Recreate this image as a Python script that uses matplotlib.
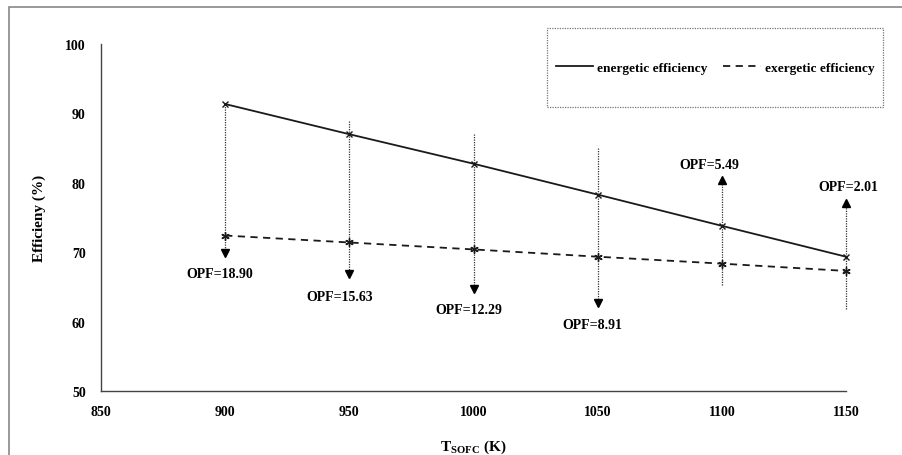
import numpy as np
import matplotlib
matplotlib.use("Agg")
import matplotlib.pyplot as plt
from matplotlib.patches import Rectangle
from matplotlib.lines import Line2D

plt.rcParams["font.family"] = "Liberation Serif"
plt.rcParams["font.weight"] = "bold"
plt.rcParams["mathtext.fontset"] = "custom"
plt.rcParams["mathtext.rm"] = "Liberation Serif:bold"
plt.rcParams["mathtext.bf"] = "Liberation Serif:bold"

# data
t_sofc = [900, 950, 1000, 1050, 1100, 1150]
energetic = [91.35, 87.0, 82.75, 78.3, 73.8, 69.35]
exergetic = [72.4, 71.4, 70.4, 69.35, 68.35, 67.3]

# OPF arrows: dotted line from start to tip
arrow_start = [91.35, 88.9, 87.0, 85.0, 65.3, 61.8]
arrow_tip = [69.9, 66.8, 64.7, 62.7, 80.4, 77.1]
opf_labels = ["OPF=18.90", "OPF=15.63", "OPF=12.29", "OPF=8.91", "OPF=5.49", "OPF=2.01"]
label_x = [898, 946, 998, 1048, 1095, 1151]
label_y = [67.0, 63.6, 61.7, 59.6, 82.6, 79.4]

fig = plt.figure(figsize=(9.03, 4.56), dpi=100)
ax = fig.add_axes([101 / 903, 64 / 456, 745 / 903, 347 / 456])

# outer frame
fig.patches.append(Rectangle((9 / 903, -0.05), 1.0, 1 - 8 / 456 + 0.05,
                             transform=fig.transFigure, fill=False,
                             edgecolor="#888888", lw=1.2))

for x, s, e in zip(t_sofc, arrow_start, arrow_tip):
    ax.plot([x, x], [s, e], color="#333333", lw=0.9, ls=(0, (1, 1)),
            zorder=1, clip_on=False)
    ax.plot(x, e, marker="v" if e < s else "^", color="black", ms=6,
            zorder=2, clip_on=False)

ax.plot(t_sofc, energetic, color="#1a1a1a", lw=1.3, marker="x", ms=5,
        mew=1.0, zorder=3, clip_on=False)
ax.plot(t_sofc, exergetic, color="#1a1a1a", lw=1.3, ls=(0, (4, 3)),
        marker=(6, 2, 0), ms=6, mew=1.0, zorder=3, clip_on=False)

for lx, ly, txt in zip(label_x, label_y, opf_labels):
    ax.text(lx, ly, txt, ha="center", va="center", fontsize=10, fontweight="bold")

ax.set_xlim(850, 1150)
ax.set_ylim(50, 100)
ax.set_xticks(np.arange(850, 1151, 50))
ax.set_yticks(np.arange(50, 101, 10))
ax.tick_params(length=0, labelsize=10, pad=10)
ax.tick_params(axis="y", pad=11)
for lab in ax.get_xticklabels() + ax.get_yticklabels():
    lab.set_fontweight("bold")
for side in ["top", "right"]:
    ax.spines[side].set_visible(False)
for side in ["left", "bottom"]:
    ax.spines[side].set_color("#444444")
    ax.spines[side].set_linewidth(1.0)

ax.set_ylabel("Efficieny (%)", fontsize=11, fontweight="bold", labelpad=14)
ax.set_xlabel(r"T$_{\mathrm{SOFC}}$ (K)", fontsize=11, fontweight="bold", labelpad=14)

# legend with dotted box
box = (547 / 903, 1 - 108 / 456, 336 / 903, 79 / 456)
fig.patches.append(Rectangle(box[:2], box[2], box[3], transform=fig.transFigure,
                             fill=False, edgecolor="#777777", lw=0.9,
                             ls=(0, (1, 1))))
handles = [Line2D([], [], color="#1a1a1a", lw=1.3),
           Line2D([], [], color="#1a1a1a", lw=1.3, ls=(0, (4, 3)))]
leg = fig.legend(handles, ["energetic efficiency", "exergetic efficiency"],
                 ncol=2, loc="center", bbox_to_anchor=box, fontsize=9.6,
                 handlelength=2.8, handletextpad=0.3, columnspacing=1.2,
                 frameon=False, borderaxespad=0)
for t in leg.get_texts():
    t.set_fontweight("bold")

fig.savefig("out.png", dpi=100)
